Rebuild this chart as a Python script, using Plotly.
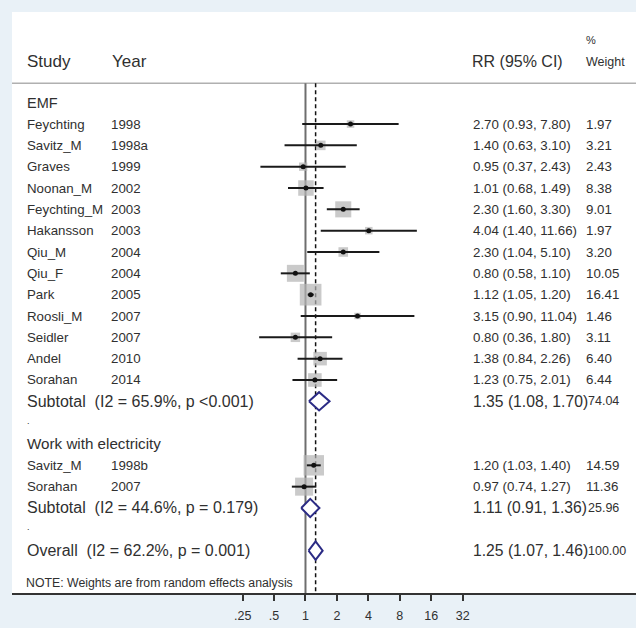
import plotly.graph_objects as go

# ---------------- data ----------------
emf_study = ["Feychting", "Savitz_M", "Graves", "Noonan_M", "Feychting_M", "Hakansson",
             "Qiu_M", "Qiu_F", "Park", "Roosli_M", "Seidler", "Andel", "Sorahan"]
emf_year = ["1998", "1998a", "1999", "2002", "2003", "2003", "2004", "2004", "2005",
            "2007", "2007", "2010", "2014"]
emf_rr = [2.70, 1.40, 0.95, 1.01, 2.30, 4.04, 2.30, 0.80, 1.12, 3.15, 0.80, 1.38, 1.23]
emf_lo = [0.93, 0.63, 0.37, 0.68, 1.60, 1.40, 1.04, 0.58, 1.05, 0.90, 0.36, 0.84, 0.75]
emf_hi = [7.80, 3.10, 2.43, 1.49, 3.30, 11.66, 5.10, 1.10, 1.20, 11.04, 1.80, 2.26, 2.01]
emf_w = [1.97, 3.21, 2.43, 8.38, 9.01, 1.97, 3.20, 10.05, 16.41, 1.46, 3.11, 6.40, 6.44]

wwe_study = ["Savitz_M", "Sorahan"]
wwe_year = ["1998b", "2007"]
wwe_rr = [1.20, 0.97]
wwe_lo = [1.03, 0.74]
wwe_hi = [1.40, 1.27]
wwe_w = [14.59, 11.36]

group_names = ["EMF", "Work with electricity"]
sub_rr = [1.35, 1.11]
sub_lo = [1.08, 0.91]
sub_hi = [1.70, 1.36]
sub_w = [74.04, 25.96]
sub_i2 = [65.9, 44.6]
sub_p = ["<0.001", "= 0.179"]

overall_rr = 1.25
overall_lo = 1.07
overall_hi = 1.46
overall_w = 100.00
overall_i2 = 62.2
overall_p = "= 0.001"

tick_vals = [0.25, 0.5, 1, 2, 4, 8, 16, 32]
tick_text = [".25", ".5", "1", "2", "4", "8", "16", "32"]

# ---------------- layout constants ----------------
W, H = 636, 628
FONT = "Liberation Sans, Arial, sans-serif"
TXT = "#303030"
NBSP = "\u00a0"

def px(x):
    return x / W

# row layout
rows_emf = list(range(1, 1 + len(emf_study)))
row_sub1 = rows_emf[-1] + 1
row_dot1 = row_sub1 + 1
row_g2 = row_dot1 + 1
rows_wwe = list(range(row_g2 + 1, row_g2 + 1 + len(wwe_study)))
row_sub2 = rows_wwe[-1] + 1
row_dot2 = row_sub2 + 1
row_overall = row_dot2 + 1
row_note = row_overall + 1.5
row_header = -1.955
row_hline = -0.909
y_bottom = 22.986
y_top = -4.252

fig = go.Figure()

all_rr = emf_rr + wwe_rr
all_lo = emf_lo + wwe_lo
all_hi = emf_hi + wwe_hi
all_w = emf_w + wwe_w
all_rows = rows_emf + rows_wwe

# weight squares
fig.add_trace(go.Scatter(
    x=all_rr, y=all_rows, mode="markers",
    marker=dict(symbol="square", color="#b4b4b4",
                size=[5.35 * (w ** 0.5) for w in all_w], line=dict(width=0)),
    hoverinfo="skip", showlegend=False))

# CI lines
cx, cy = [], []
for lo, hi, r in zip(all_lo, all_hi, all_rows):
    cx += [lo, hi, None]
    cy += [r, r, None]
fig.add_trace(go.Scatter(x=cx, y=cy, mode="lines",
                         line=dict(color="#1a1a1a", width=2),
                         hoverinfo="skip", showlegend=False))

# point estimates
fig.add_trace(go.Scatter(x=all_rr, y=all_rows, mode="markers",
                         marker=dict(symbol="circle", color="#111111", size=5),
                         hoverinfo="skip", showlegend=False))

# diamonds
dh = 0.43
def diamond(est, lo, hi, r):
    fig.add_trace(go.Scatter(
        x=[lo, est, hi, est, lo], y=[r, r - dh, r, r + dh, r],
        mode="lines", fill="toself", fillcolor="white",
        line=dict(color="#2b2b85", width=2),
        hoverinfo="skip", showlegend=False))

diamond(sub_rr[0], sub_lo[0], sub_hi[0], row_sub1)
diamond(sub_rr[1], sub_lo[1], sub_hi[1], row_sub2)
diamond(overall_rr, overall_lo, overall_hi, row_overall)

# reference lines
shapes = [
    dict(type="line", xref="x", yref="y", x0=1, x1=1, y0=row_hline, y1=y_bottom,
         line=dict(color="#6e6e6e", width=2), layer="below"),
    dict(type="line", xref="x", yref="y", x0=overall_rr, x1=overall_rr,
         y0=row_hline, y1=y_bottom,
         line=dict(color="#111111", width=1.5, dash="4px,3px"), layer="below"),
    dict(type="line", xref="paper", yref="y", x0=px(12), x1=1, y0=row_hline, y1=row_hline,
         line=dict(color="#b0b0b0", width=1.5), layer="below"),
]

ann = []
def text(x, y, s, size, color=TXT):
    ann.append(dict(x=px(x), y=y, xref="paper", yref="y", text=s, showarrow=False,
                    xanchor="left", yanchor="middle",
                    font=dict(family=FONT, size=size, color=color)))

# header
text(25, row_header, "Study", 17)
text(110, row_header, "Year", 17)
text(470, row_header, "RR (95% CI)", 16)
text(584, row_header - 1.0, "%", 11)
text(584, row_header + 0.05, "Weight", 12.5)

# group 1
text(25, 0, group_names[0], 14.5)
for s, yr, rr, lo, hi, w, r in zip(emf_study, emf_year, emf_rr, emf_lo, emf_hi, emf_w, rows_emf):
    text(25, r, s, 13.3)
    text(109, r, yr, 13.3)
    text(471, r, f"{rr:.2f} ({lo:.2f}, {hi:.2f})", 13.3)
    text(584, r, f"{w:.2f}", 13.3)
text(25, row_sub1, f"Subtotal{NBSP}{NBSP}(I2 = {sub_i2[0]:.1f}%, p {sub_p[0]})", 16)
text(471, row_sub1, f"{sub_rr[0]:.2f} ({sub_lo[0]:.2f}, {sub_hi[0]:.2f})", 15.7)
text(586, row_sub1, f"{sub_w[0]:.2f}", 12.5)
text(25, row_dot1 - 0.1, ".", 9)

# group 2
text(25, row_g2, group_names[1], 15.2)
for s, yr, rr, lo, hi, w, r in zip(wwe_study, wwe_year, wwe_rr, wwe_lo, wwe_hi, wwe_w, rows_wwe):
    text(25, r, s, 13.3)
    text(109, r, yr, 13.3)
    text(471, r, f"{rr:.2f} ({lo:.2f}, {hi:.2f})", 13.3)
    text(584, r, f"{w:.2f}", 13.3)
text(25, row_sub2, f"Subtotal{NBSP}{NBSP}(I2 = {sub_i2[1]:.1f}%, p {sub_p[1]})", 16)
text(471, row_sub2, f"{sub_rr[1]:.2f} ({sub_lo[1]:.2f}, {sub_hi[1]:.2f})", 15.7)
text(586, row_sub2, f"{sub_w[1]:.2f}", 12.5)
text(25, row_dot2 - 0.1, ".", 9)

# overall
text(25, row_overall, f"Overall{NBSP}{NBSP}(I2 = {overall_i2:.1f}%, p {overall_p})", 16)
text(471, row_overall, f"{overall_rr:.2f} ({overall_lo:.2f}, {overall_hi:.2f})", 15.7)
text(586, row_overall, f"{overall_w:.2f}", 12.5)

text(24, row_note, "NOTE: Weights are from random effects analysis", 12.3)

fig.update_layout(
    width=W, height=H, autosize=False,
    margin=dict(l=0, r=0, t=0, b=0),
    paper_bgcolor="#e9f1f7", plot_bgcolor="white",
    shapes=shapes, annotations=ann, showlegend=False,
    xaxis=dict(type="log", range=[-2.8111, 3.1656], domain=[px(12), 1],
               tickvals=tick_vals, ticktext=tick_text,
               ticks="outside", ticklen=6, tickwidth=1.5, tickcolor="#333333",
               showline=True, linecolor="#333333", linewidth=1.5,
               showgrid=False, zeroline=False, ticklabelstandoff=4,
               tickfont=dict(family=FONT, size=12.5, color=TXT), fixedrange=True),
    yaxis=dict(range=[y_bottom, y_top], domain=[1 - 593 / H, 1 - 12 / H],
               visible=False, showgrid=False, zeroline=False, fixedrange=True),
)

fig.write_html(
    "out.html",
    config={"displayModeBar": False},
    post_script="document.body.style.margin='0';document.body.style.padding='0';"
                "document.body.style.overflow='hidden';",
)
